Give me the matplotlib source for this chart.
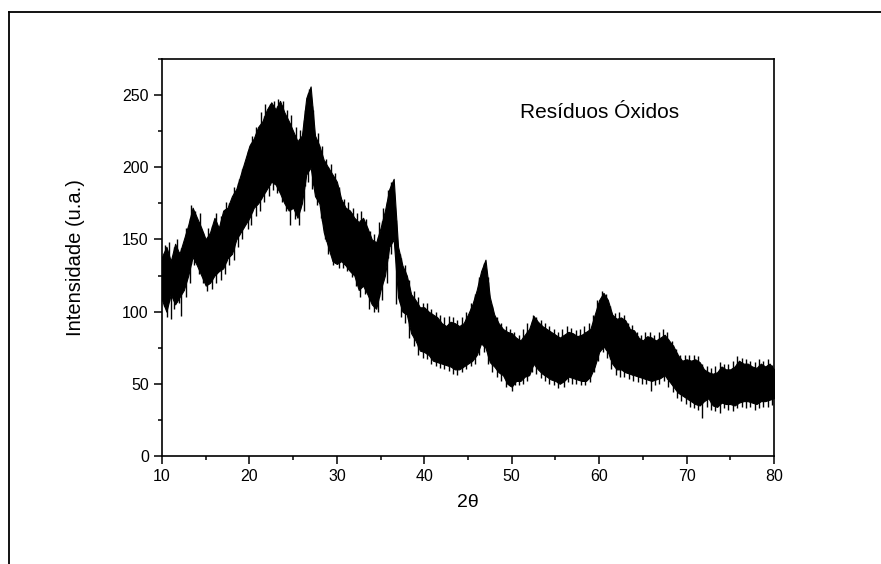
import numpy as np
import matplotlib
matplotlib.use("Agg")
import matplotlib.pyplot as plt
from matplotlib.lines import Line2D
from matplotlib.ticker import MultipleLocator

plt.rcParams['font.family'] = ['Liberation Sans', 'DejaVu Sans']

# === DATA (0.5 deg steps) ===
two_theta = np.arange(10, 80.01, 0.5)

upper = [138, 145, 135, 147, 140, 150, 160, 172, 165, 158,
         150, 155, 165, 158, 170, 172, 180, 185, 195, 205,
         215, 220, 228, 232, 240, 245, 240, 246, 238, 232,
         225, 218, 222, 248, 256, 222, 215, 205, 200, 195,
         190, 178, 172, 170, 165, 162, 165, 158, 150, 148,
         158, 170, 185, 192, 145, 132, 125, 112, 108, 103,
         103, 100, 98, 96, 92, 90, 93, 92, 90, 92,
         98, 105, 115, 128, 136, 110, 98, 92, 88, 86,
         85, 82, 80, 84, 88, 97, 93, 90, 88, 86,
         84, 82, 84, 86, 85, 83, 84, 86, 88, 98,
         108, 113, 108, 98, 95, 96, 94, 88, 87, 82,
         80, 83, 82, 80, 82, 84, 80, 76, 70, 66,
         67, 66, 67, 65, 60, 58, 57, 58, 62, 60,
         60, 62, 66, 64, 64, 62, 61, 64, 62, 64,
         60]

lower = [108, 100, 112, 105, 110, 115, 125, 138, 132, 125,
         118, 120, 125, 128, 130, 137, 140, 150, 155, 160,
         165, 172, 175, 180, 185, 190, 188, 182, 175, 170,
         172, 165, 175, 195, 200, 180, 175, 155, 145, 135,
         133, 135, 132, 128, 125, 115, 118, 112, 105, 102,
         115, 125, 145, 150, 110, 100, 98, 85, 80, 73,
         72, 70, 66, 65, 64, 63, 62, 60, 60, 62,
         64, 66, 70, 78, 75, 65, 62, 58, 56, 50,
         48, 52, 52, 55, 56, 64, 60, 57, 55, 53,
         52, 50, 52, 55, 54, 53, 52, 52, 55, 62,
         72, 76, 72, 64, 60, 60, 58, 57, 56, 55,
         54, 53, 52, 53, 54, 56, 52, 48, 44, 42,
         40, 38, 36, 35, 38, 40, 35, 34, 37, 36,
         36, 35, 37, 38, 38, 37, 36, 38, 38, 39,
         40]

# noise spikes sticking out above the band (position, tip)
spike_hi_x = [10.3, 10.8, 11.7, 12.8, 13.3, 13.8, 14.3, 15.3, 16.2, 16.8,
              17.3, 18.2, 18.8, 19.3, 19.8, 20.3, 20.8, 21.3, 21.8, 22.3,
              22.8, 23.3, 23.8, 24.3, 24.8, 25.3, 25.8, 26.3, 26.8, 27.3,
              27.8, 28.3, 28.8, 29.3, 29.8, 30.3, 30.8, 31.3, 31.8, 32.3,
              32.8, 33.3, 33.8, 34.3, 34.8, 35.3, 35.8, 36.2, 37.2, 37.8,
              38.3, 38.8, 39.3, 39.8, 40.3, 40.8, 41.3, 41.8, 42.3, 42.8,
              43.3, 43.8, 44.3, 44.8, 45.3, 45.8, 46.3, 46.8, 47.3, 47.8,
              48.3, 48.8, 49.3, 49.8, 50.3, 50.8, 51.3, 51.8, 52.4, 52.8,
              53.3, 53.8, 54.3, 54.8, 55.3, 55.8, 56.3, 56.8, 57.3, 57.8,
              58.3, 58.8, 59.3, 59.8, 60.3, 60.8, 61.3, 61.8, 62.3, 62.8,
              63.3, 63.8, 64.3, 64.8, 65.3, 65.8, 66.3, 66.8, 67.3, 67.8,
              68.3, 68.8, 69.3, 69.8, 70.3, 70.8, 71.3, 71.8, 72.3, 72.8,
              73.3, 73.8, 74.3, 74.8, 75.3, 75.8, 76.3, 76.8, 77.3, 77.8,
              78.3, 78.8, 79.3, 79.8]
spike_hi_y = [146, 148, 150, 158, 174, 170, 168, 158, 168, 166,
              176, 186, 192, 200, 210, 222, 228, 238, 244, 244,
              246, 247, 246, 240, 236, 228, 226, 240, 254, 240,
              224, 215, 206, 202, 196, 186, 178, 176, 172, 168,
              170, 164, 156, 154, 162, 172, 184, 190, 140, 132,
              122, 114, 110, 106, 106, 102, 100, 98, 96, 97,
              96, 94, 96, 100, 106, 112, 124, 134, 124, 104,
              96, 92, 90, 88, 86, 84, 88, 92, 98, 96,
              94, 92, 90, 88, 86, 88, 90, 89, 87, 88,
              90, 92, 98, 108, 114, 112, 104, 99, 100, 98,
              92, 91, 86, 84, 86, 86, 84, 86, 88, 86,
              80, 74, 70, 70, 70, 70, 69, 64, 62, 61,
              62, 65, 64, 64, 66, 69, 68, 67, 66, 65,
              67, 66, 67, 63]

# noise spikes dropping below the band (position, tip)
spike_lo_x = [10.2, 10.6, 11.0, 11.4, 11.9, 12.2, 12.7, 13.2, 13.7, 14.2,
              14.7, 15.2, 15.7, 16.2, 16.7, 17.2, 17.7, 18.2, 18.7, 19.2,
              19.8, 20.2, 20.7, 21.2, 21.7, 22.2, 22.7, 23.2, 23.7, 24.2,
              24.6, 25.2, 25.7, 26.2, 26.7, 27.2, 27.7, 28.2, 28.6, 29.0,
              29.6, 30.2, 30.7, 31.2, 31.7, 32.2, 32.7, 33.2, 33.7, 34.2,
              34.7, 35.2, 35.7, 36.2, 36.8, 37.3, 37.8, 38.3, 38.8, 39.3,
              39.8, 40.3, 40.8, 41.3, 41.8, 42.3, 42.8, 43.3, 43.8, 44.3,
              44.8, 45.3, 45.8, 46.3, 46.8, 47.3, 47.8, 48.3, 48.8, 49.3,
              50.0, 50.4, 50.8, 51.3, 51.8, 52.3, 52.8, 53.3, 53.8, 54.3,
              54.8, 55.3, 56.0, 56.4, 56.9, 57.4, 57.9, 58.4, 58.9, 59.4,
              59.9, 60.4, 60.9, 61.4, 61.9, 62.4, 62.9, 63.4, 63.9, 64.4,
              64.9, 65.4, 65.9, 66.4, 66.9, 67.4, 67.9, 68.4, 68.9, 69.4,
              69.9, 70.4, 70.9, 71.3, 71.8, 72.3, 72.8, 73.3, 73.8, 74.3,
              74.8, 75.3, 75.8, 76.3, 76.8, 77.3, 77.8, 78.3, 78.8, 79.3,
              79.8]
spike_lo_y = [104, 96, 95, 102, 106, 97, 110, 120, 132, 126,
              120, 114, 116, 120, 122, 126, 132, 136, 145, 150,
              157, 160, 166, 170, 176, 180, 184, 182, 176, 170,
              160, 164, 160, 170, 190, 185, 174, 165, 150, 140,
              132, 130, 130, 128, 124, 118, 110, 112, 102, 100,
              100, 108, 120, 140, 105, 96, 92, 82, 76, 70,
              68, 67, 64, 62, 61, 60, 59, 57, 56, 58,
              60, 62, 64, 70, 72, 64, 58, 55, 52, 48,
              45, 49, 49, 50, 52, 58, 57, 54, 52, 50,
              49, 47, 48, 51, 50, 50, 49, 49, 51, 58,
              66, 72, 68, 60, 56, 55, 55, 53, 52, 51,
              50, 50, 45, 49, 50, 52, 48, 44, 40, 38,
              36, 34, 33, 32, 26, 34, 32, 31, 30, 33,
              32, 31, 33, 34, 33, 34, 32, 33, 34, 34,
              35]

x_ticks = [10, 20, 30, 40, 50, 60, 70, 80]
y_ticks = [0, 50, 100, 150, 200, 250]

# === PLOT ===
fig = plt.figure(figsize=(8.81, 5.64), dpi=100)
ax = fig.add_axes([0.1839, 0.1915, 0.6946, 0.7039])

ax.fill_between(two_theta, lower, upper, color="black", lw=0.8)
base_hi = np.interp(spike_hi_x, two_theta, lower)
ax.vlines(spike_hi_x, base_hi, spike_hi_y, color="black", lw=1.0)
base_lo = np.interp(spike_lo_x, two_theta, upper)
ax.vlines(spike_lo_x, spike_lo_y, base_lo, color="black", lw=1.0)

ax.set_xlim(10, 80)
ax.set_ylim(0, 275)
ax.set_xticks(x_ticks)
ax.set_yticks(y_ticks)
ax.xaxis.set_minor_locator(MultipleLocator(5))
ax.yaxis.set_minor_locator(MultipleLocator(25))
ax.tick_params(which="major", direction="out", length=6, width=1.1, labelsize=11.5, colors="black")
ax.tick_params(which="minor", direction="out", length=3, width=1.1)
for sp in ax.spines.values():
    sp.set_linewidth(1.2)

ax.set_xlabel("2θ", fontsize=14)
ax.xaxis.set_label_coords(0.5, -0.095)
ax.set_ylabel("Intensidade (u.a.)", fontsize=14.5)
ax.yaxis.set_label_coords(-0.126, 0.5)
ax.text(51, 238, "Resíduos Óxidos", fontsize=15, va="center", ha="left")

# outer frame (left and top edges only are visible)
fig.add_artist(Line2D([9 / 881, 9 / 881], [0, 1 - 12 / 564], color="black", lw=1.3))
fig.add_artist(Line2D([9 / 881, 1], [1 - 12 / 564, 1 - 12 / 564], color="black", lw=1.3))

fig.savefig("out.png", dpi=100)
